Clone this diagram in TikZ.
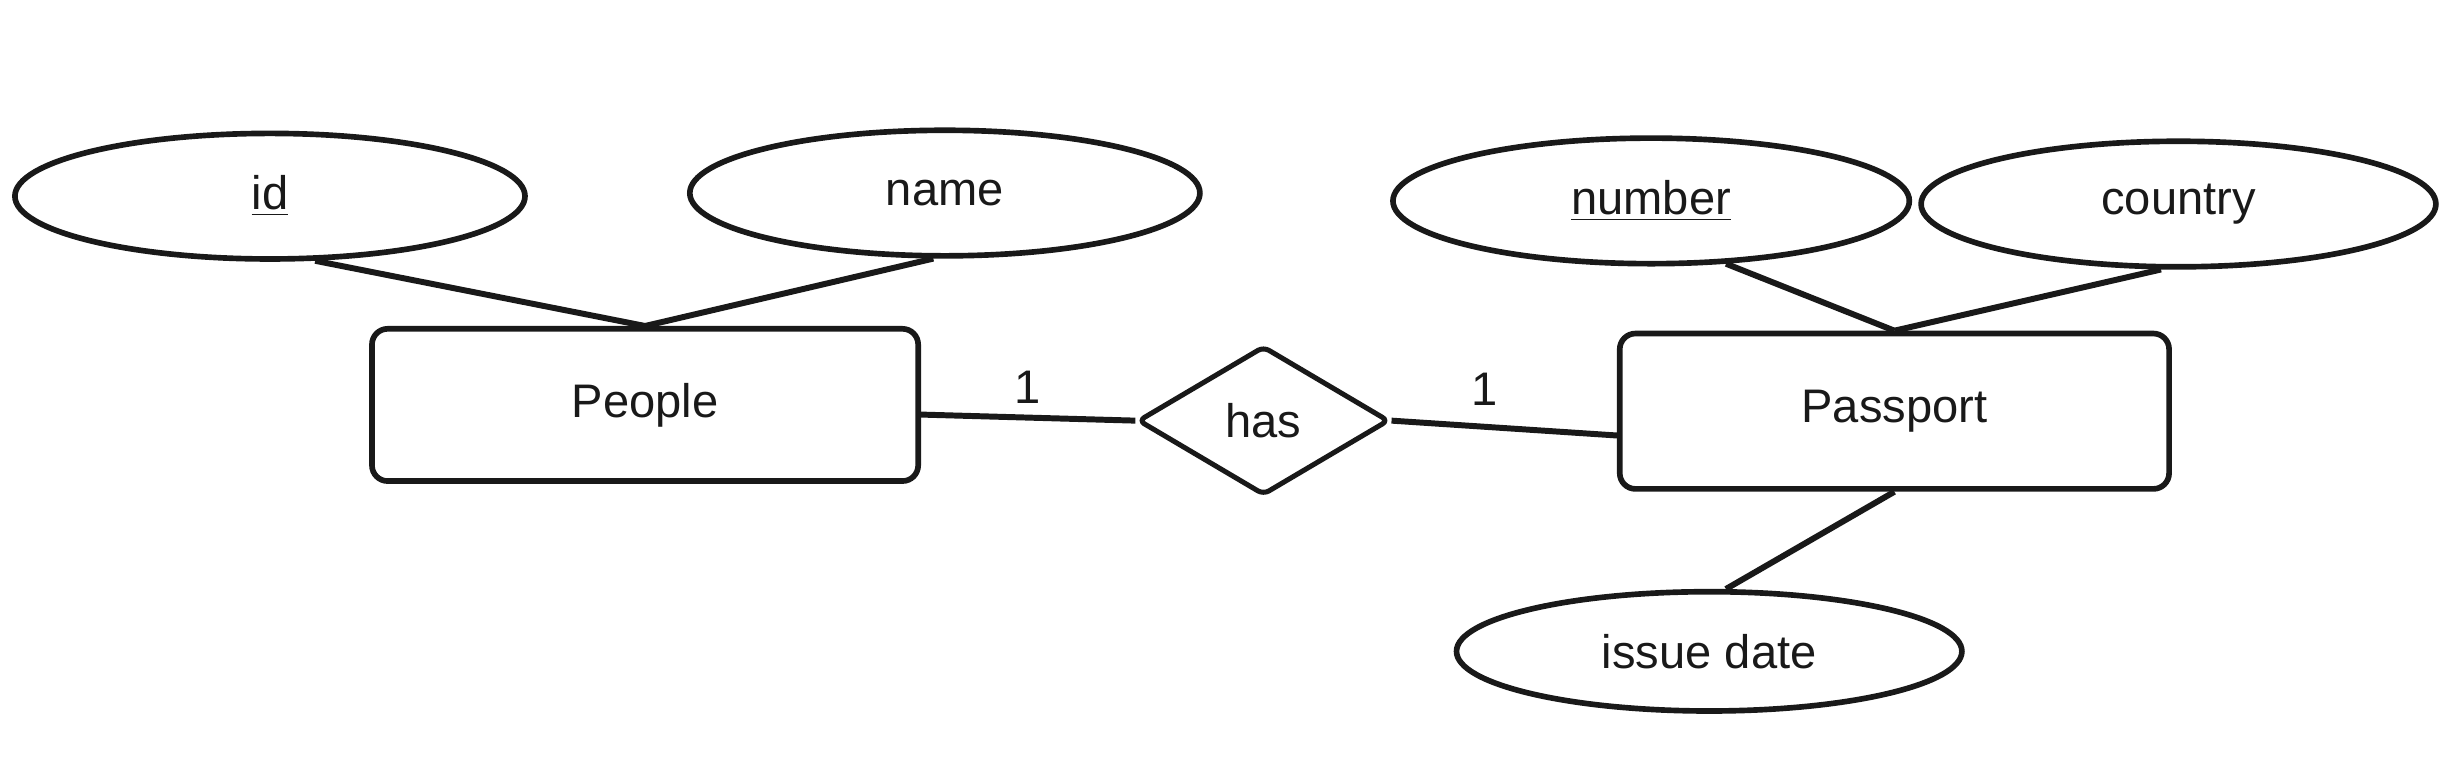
\documentclass[tikz,border=0pt]{standalone}
\usepackage{fontspec}
\setmainfont{Liberation Sans}
\usetikzlibrary{shapes.geometric}
\tikzset{
  every node/.style={font=\fontsize{15}{18}\selectfont, text=black!90},
  attr/.style={draw=black!90, line width=1.8pt, ellipse, inner sep=0pt},
  entity/.style={draw=black!90, line width=1.8pt, rectangle, rounded corners=5pt, inner sep=0pt},
  relation/.style={draw=black!90, line width=1.6pt, diamond, inner sep=0pt, rounded corners=2pt},
  conn/.style={draw=black!90, line width=1.9pt},
  card/.style={inner sep=0pt}
}
\begin{document}
\begin{tikzpicture}[x=0.5pt, y=-0.5pt]
\useasboundingbox (0,0) rectangle (1568,487.4);
% attributes
\node[attr, minimum width=162.5pt, minimum height=40pt] (id) at (172,125) {\underline{id}};
\node[attr, minimum width=162.5pt, minimum height=40pt] (name) at (602,123) {name};
\node[attr, minimum width=164.5pt, minimum height=40pt] (number) at (1052,128) {\underline{number}};
\node[attr, minimum width=164pt, minimum height=40pt] (country) at (1388,130) {country};
\node[attr, minimum width=161pt, minimum height=38pt] (issue) at (1089,415) {issue date};
% entities
\node[entity, minimum width=174pt, minimum height=48.5pt] (people) at (411,258) {People};
\node[entity, minimum width=175pt, minimum height=49.5pt] (passport) at (1207,262) {Passport};
% relationship
\node[relation, minimum width=80pt, minimum height=47.5pt] (has) at (805,268) {has};
% connectors
\draw[conn] (id.-55) -- (people.north);
\draw[conn] (name.-100) -- (people.north);
\draw[conn] (number.-40) -- (passport.north);
\draw[conn] (country.-105) -- (passport.north);
\draw[conn] (passport.south) -- (issue.75);
\draw[conn] (people.-2) -- (has.west);
\draw[conn] (has.east) -- (passport.185);
% cardinalities
\node[card] (c1) at (655,247) {1};
\node[card] (c2) at (946,248) {1};
\end{tikzpicture}
\end{document}
